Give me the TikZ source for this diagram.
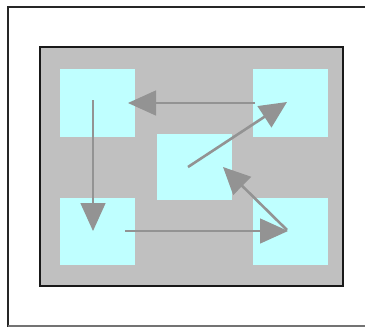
\documentclass[tikz,border=0pt]{standalone}
\usetikzlibrary{arrows.meta}
\definecolor{panelgray}{HTML}{C0C0C0}
\definecolor{boxcyan}{HTML}{BFFFFF}
\definecolor{arrowgray}{HTML}{939393}
\begin{document}
\begin{tikzpicture}[x=1pt,y=-1pt,
  cell/.style={fill=boxcyan,draw=none,minimum width=75pt,minimum height=68pt,inner sep=0pt,anchor=north west},
  thinarrow/.style={draw=arrowgray,line width=1.4pt,-{Triangle[length=28pt,width=25pt]}},
  thickarrow/.style={draw=arrowgray,line width=2.6pt,-{Triangle[length=27pt,width=25pt]}}]
\useasboundingbox (0,0) rectangle (365,327);
\fill[white] (0,0) rectangle (365,327);
% outer frame
\draw[line width=2pt,draw=black!85] (8,327) -- (8,7) -- (366,7);
\draw[line width=1.2pt,draw=black!55] (8,326) -- (366,326);
% panel
\draw[fill=panelgray,line width=2.2pt,draw=black!90] (40,47) rectangle (343,286);
% cells
\node[cell] (tl) at (60,69) {};
\node[cell] (tr) at (253,69) {};
\node[cell,minimum height=66pt] (c) at (157,134) {};
\node[cell,minimum height=67pt] (bl) at (60,198) {};
\node[cell,minimum height=67pt] (br) at (253,198) {};
% arrow end points
\coordinate (a1s) at (255,103);
\coordinate (a1e) at (128,103);
\coordinate (a2s) at (93,100);
\coordinate (a2e) at (93,231);
\coordinate (a3s) at (125,231);
\coordinate (a3e) at (288,231);
\coordinate (a4s) at (188,167);
\coordinate (a4e) at (287,102);
\coordinate (a5s) at (287,230);
\coordinate (a5e) at (223,167);
% arrows
\draw[thinarrow] (a1s) -- (a1e);
\draw[thinarrow] (a2s) -- (a2e);
\draw[thinarrow] (a3s) -- (a3e);
\draw[thickarrow] (a4s) -- (a4e);
\draw[thickarrow] (a5s) -- (a5e);
\end{tikzpicture}
\end{document}
